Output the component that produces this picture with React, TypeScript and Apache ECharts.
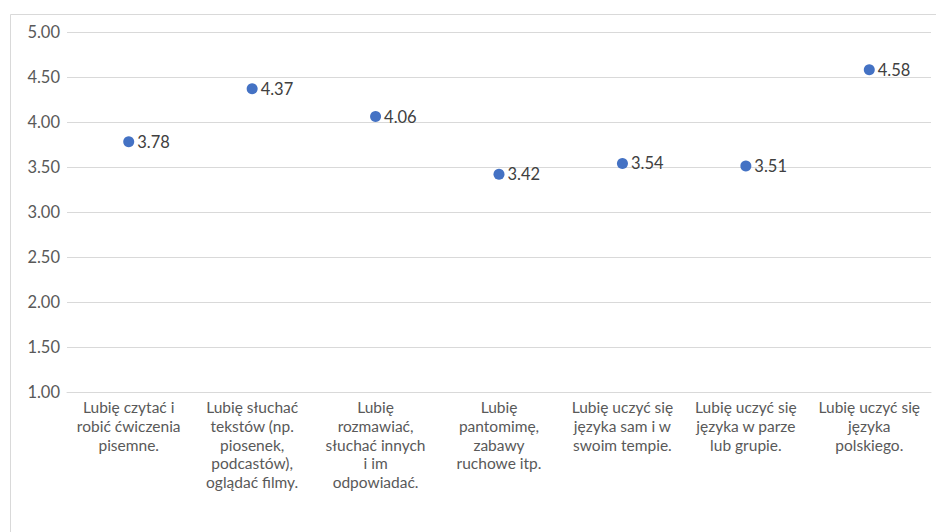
import React, { useEffect, useRef } from "react";
import * as echarts from "echarts";

const categories: string[] = [
  "Lubię czytać i\nrobić ćwiczenia\npisemne.",
  "Lubię słuchać\ntekstów (np.\npiosenek,\npodcastów),\noglądać filmy.",
  "Lubię\nrozmawiać,\nsłuchać innych\ni im\nodpowiadać.",
  "Lubię\npantomimę,\nzabawy\nruchowe itp.",
  "Lubię uczyć się\njęzyka sam i w\nswoim tempie.",
  "Lubię uczyć się\njęzyka w parze\nlub grupie.",
  "Lubię uczyć się\njęzyka\npolskiego.",
];

const values: number[] = [3.78, 4.37, 4.06, 3.42, 3.54, 3.51, 4.58];

const yMin = 1;
const yMax = 5;
const yStep = 0.5;

const FONT = "Lato, 'Open Sans', sans-serif";

export default function App() {
  const ref = useRef<HTMLDivElement>(null);
  useEffect(() => {
    if (!ref.current) return;
    const chart = echarts.init(ref.current, undefined, { renderer: "svg" });
    chart.setOption({
      animation: false,
      backgroundColor: "#ffffff",
      textStyle: { fontFamily: FONT },
      graphic: [
        {
          type: "rect",
          left: 8,
          top: 12,
          shape: { x: 0.5, y: 0.5, width: 940, height: 540 },
          style: { fill: "none", stroke: "#d9d9d9", lineWidth: 1 },
          silent: true,
          z: -1,
        },
      ],
      grid: { left: 67, right: 5, top: 32, bottom: 140, containLabel: false },
      xAxis: {
        type: "category",
        data: categories,
        boundaryGap: true,
        axisLine: { show: true, lineStyle: { color: "#d9d9d9", width: 1 } },
        axisTick: { show: false },
        axisLabel: {
          interval: 0,
          color: "#595959",
          fontSize: 15.5,
          fontFamily: FONT,
          lineHeight: 18.6,
          margin: 6,
          align: "center",
        },
      },
      yAxis: {
        type: "value",
        min: yMin,
        max: yMax,
        interval: yStep,
        axisLine: { show: false },
        axisTick: { show: false },
        splitLine: { show: true, lineStyle: { color: "#d9d9d9", width: 1 } },
        axisLabel: {
          color: "#595959",
          fontSize: 16.5,
          fontFamily: FONT,
          margin: 7,
          formatter: (v: number) => v.toFixed(2),
        },
      },
      series: [
        {
          type: "scatter",
          data: values,
          symbol: "circle",
          symbolSize: 11,
          itemStyle: { color: "#4472C4", opacity: 1 },
          label: {
            show: true,
            position: "right",
            distance: 3,
            color: "#404040",
            fontSize: 16.5,
            fontFamily: FONT,
            formatter: (p: any) => Number(p.value).toFixed(2),
          },
        },
      ],
    });
    return () => chart.dispose();
  }, []);
  return (
    <div
      ref={ref}
      style={{ position: "absolute", left: 0, top: 0, width: 936, height: 532 }}
    />
  );
}
